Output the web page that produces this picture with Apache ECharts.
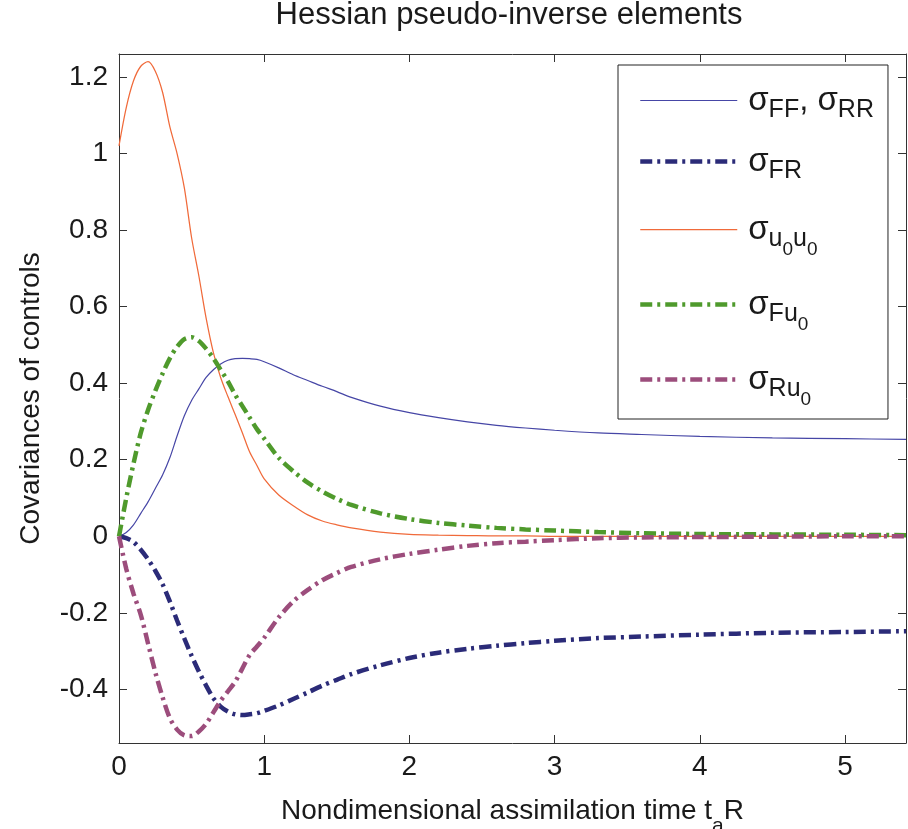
<!DOCTYPE html>
<html>
<head>
<meta charset="utf-8">
<script src="https://cdn.jsdelivr.net/npm/echarts@6/dist/echarts.min.js"></script>
<style>
html,body{margin:0;padding:0;background:#fff;}
#c{width:908px;height:829px;}
</style>
</head>
<body>
<div id="c"></div>
<script>
// nondimensional assimilation time t_a R
var T = [0,0.05,0.1,0.15,0.2,0.25,0.3,0.35,0.4,0.45,0.5,0.55,0.6,0.65,0.7,0.75,0.8,0.85,0.9,0.95,1.0,1.1,1.2,1.3,1.4,1.5,1.6,1.8,2.0,2.2,2.4,2.6,2.8,3.0,3.3,3.6,4.0,4.5,5.0,5.42];
var sigmaFF = [0,0.01,0.03,0.06,0.09,0.125,0.16,0.205,0.262,0.315,0.355,0.385,0.415,0.435,0.45,0.46,0.464,0.465,0.464,0.462,0.456,0.44,0.422,0.407,0.392,0.378,0.363,0.34,0.323,0.31,0.299,0.29,0.283,0.277,0.27,0.266,0.261,0.257,0.255,0.253];
var sigmaFR = [0,-0.005,-0.015,-0.035,-0.06,-0.09,-0.125,-0.17,-0.22,-0.267,-0.312,-0.353,-0.39,-0.423,-0.445,-0.458,-0.465,-0.467,-0.465,-0.462,-0.456,-0.442,-0.425,-0.408,-0.39,-0.375,-0.36,-0.337,-0.318,-0.304,-0.294,-0.286,-0.279,-0.273,-0.266,-0.262,-0.257,-0.252,-0.25,-0.248];
var sigmaU0U0 = [1.02,1.12,1.19,1.228,1.24,1.215,1.16,1.07,1.0,0.91,0.78,0.68,0.57,0.48,0.415,0.365,0.318,0.27,0.22,0.185,0.15,0.108,0.08,0.056,0.04,0.03,0.022,0.011,0.005,0.003,0.002,0.001,0.001,0,0,0,0,0,0,0];
var sigmaFU0 = [0,0.1,0.19,0.27,0.33,0.38,0.425,0.465,0.495,0.515,0.52,0.51,0.49,0.465,0.435,0.405,0.37,0.34,0.31,0.28,0.255,0.205,0.17,0.14,0.117,0.098,0.082,0.06,0.045,0.035,0.028,0.022,0.018,0.015,0.011,0.008,0.006,0.005,0.004,0.003];
var sigmaRU0 = [0,-0.085,-0.15,-0.205,-0.28,-0.355,-0.42,-0.475,-0.505,-0.52,-0.522,-0.51,-0.49,-0.46,-0.43,-0.405,-0.38,-0.345,-0.31,-0.288,-0.265,-0.212,-0.17,-0.14,-0.115,-0.096,-0.08,-0.06,-0.046,-0.035,-0.025,-0.018,-0.014,-0.01,-0.005,-0.003,-0.002,-0.001,0,0];
var xTicks = [0,1,2,3,4,5];
var yTicks = [-0.4,-0.2,0,0.2,0.4,0.6,0.8,1,1.2];

var FONT = "'Liberation Sans', Arial, sans-serif";
function pairs(v){ return T.map(function(t,i){ return [t, v[i]]; }); }
var COL = {FF:'#4646a6', FR:'#2b2b78', UU:'#f06a3a', FU:'#4f9a2c', RU:'#9c4d7c'};
var WID = {FF:1.2, FR:4.5, UU:1.25, FU:4.5, RU:4.5};
var TYP = {FF:'solid', FR:[12,5,3,5], UU:'solid', FU:[12,5,3,5], RU:[12,5,3,5]};

var legendText = {
  'FF': '{f|σ}{b|FF}{m|, }{s|σ}{b|RR}',
  'FR': '{f|σ}{b|FR}',
  'UU': '{f|σ}{b|u}{c|0}{b|u}{c|0}',
  'FU': '{f|σ}{b|Fu}{c|0}',
  'RU': '{f|σ}{b|Ru}{c|0}'
};
var names = ['FF','FR','UU','FU','RU'];
var dataArr = {FF: sigmaFF, FR: sigmaFR, UU: sigmaU0U0, FU: sigmaFU0, RU: sigmaRU0};

var frameLine = {show: true, onZero: false, lineStyle: {color: '#333', width: 1}};

var chart = echarts.init(document.getElementById('c'), null, {renderer:'canvas'});
chart.setOption({
  backgroundColor: '#fff',
  animation: false,
  color: names.map(function(n){ return COL[n]; }),
  title: {
    text: 'Hessian pseudo-inverse elements',
    left: 504, top: -5, textAlign: 'center',
    textStyle: {fontFamily: FONT, fontSize: 31, fontWeight: 'normal', color: '#1a1a1a'}
  },
  grid: {left: 119, right: 2, top: 54, bottom: 86, containLabel: false, outerBoundsMode: 'none'},
  legend: {
    orient: 'vertical', left: 618, top: 65,
    padding: [13, 14, 10, 20],
    itemWidth: 97, itemHeight: 14, itemGap: 16,
    backgroundColor: '#fff', borderColor: '#222', borderWidth: 1,
    data: names.map(function(n){
      return {name: n,
        itemStyle: {color: COL[n], opacity: 0},
        lineStyle: {color: COL[n], width: WID[n], type: TYP[n], opacity: 1}};
    }),
    formatter: function(n){ return legendText[n]; },
    textStyle: {
      fontFamily: FONT, color: '#1a1a1a',
      rich: {
        f: {fontFamily: FONT, fontSize: 33, lineHeight: 52, padding: [0,0,0,6], color:'#1a1a1a'},
        s: {fontFamily: FONT, fontSize: 33, lineHeight: 52, color:'#1a1a1a'},
        m: {fontFamily: FONT, fontSize: 33, lineHeight: 52, color:'#1a1a1a'},
        b: {fontFamily: FONT, fontSize: 25, lineHeight: 52, padding: [20,0,0,0], color:'#1a1a1a'},
        c: {fontFamily: FONT, fontSize: 19, lineHeight: 52, padding: [40,0,0,0], color:'#1a1a1a'}
      }
    }
  },
  xAxis: [{
    type: 'value', min: 0, max: 5.42, position: 'bottom',
    name: '{n|Nondimensional assimilation time t}{s|a}{n|R}',
    nameLocation: 'middle', nameGap: 42,
    nameTextStyle: {
      fontFamily: FONT, fontSize: 28, color: '#1a1a1a',
      rich: {
        n: {fontFamily: FONT, fontSize: 28, lineHeight: 34, color:'#1a1a1a'},
        s: {fontFamily: FONT, fontSize: 21, lineHeight: 34, padding: [30,0,0,0], color:'#1a1a1a'}
      }
    },
    axisLine: frameLine,
    axisTick: {show: true, inside: true, length: 8, customValues: xTicks, lineStyle: {color: '#333'}},
    axisLabel: {show: true, customValues: xTicks, margin: 10, fontFamily: FONT, fontSize: 28, color: '#1a1a1a'},
    splitLine: {show: false}
  }, {
    type: 'value', min: 0, max: 5.42, position: 'top',
    axisLine: frameLine,
    axisTick: {show: true, inside: true, length: 8, customValues: xTicks, lineStyle: {color: '#333'}},
    axisLabel: {show: false},
    splitLine: {show: false}
  }],
  yAxis: [{
    type: 'value', min: -0.54, max: 1.26, position: 'left',
    name: 'Covariances of controls',
    nameLocation: 'middle', nameGap: 74, nameRotate: 90,
    nameTextStyle: {fontFamily: FONT, fontSize: 28, color: '#1a1a1a'},
    axisLine: frameLine,
    axisTick: {show: true, inside: true, length: 8, customValues: yTicks, lineStyle: {color: '#333'}},
    axisLabel: {show: true, customValues: yTicks, margin: 11, fontFamily: FONT, fontSize: 28, color: '#1a1a1a',
      formatter: function(v){ return String(Math.round(v*10)/10); }},
    splitLine: {show: false}
  }, {
    type: 'value', min: -0.54, max: 1.26, position: 'right',
    axisLine: frameLine,
    axisTick: {show: true, inside: true, length: 8, customValues: yTicks, lineStyle: {color: '#333'}},
    axisLabel: {show: false},
    splitLine: {show: false}
  }],
  series: names.map(function(n){
    return {name: n, type: 'line', data: pairs(dataArr[n]), symbol: 'none', smooth: 0.3,
      color: COL[n],
      lineStyle: {color: COL[n], width: WID[n], type: TYP[n]}, itemStyle: {color: COL[n]}};
  })
});
</script>
</body>
</html>
